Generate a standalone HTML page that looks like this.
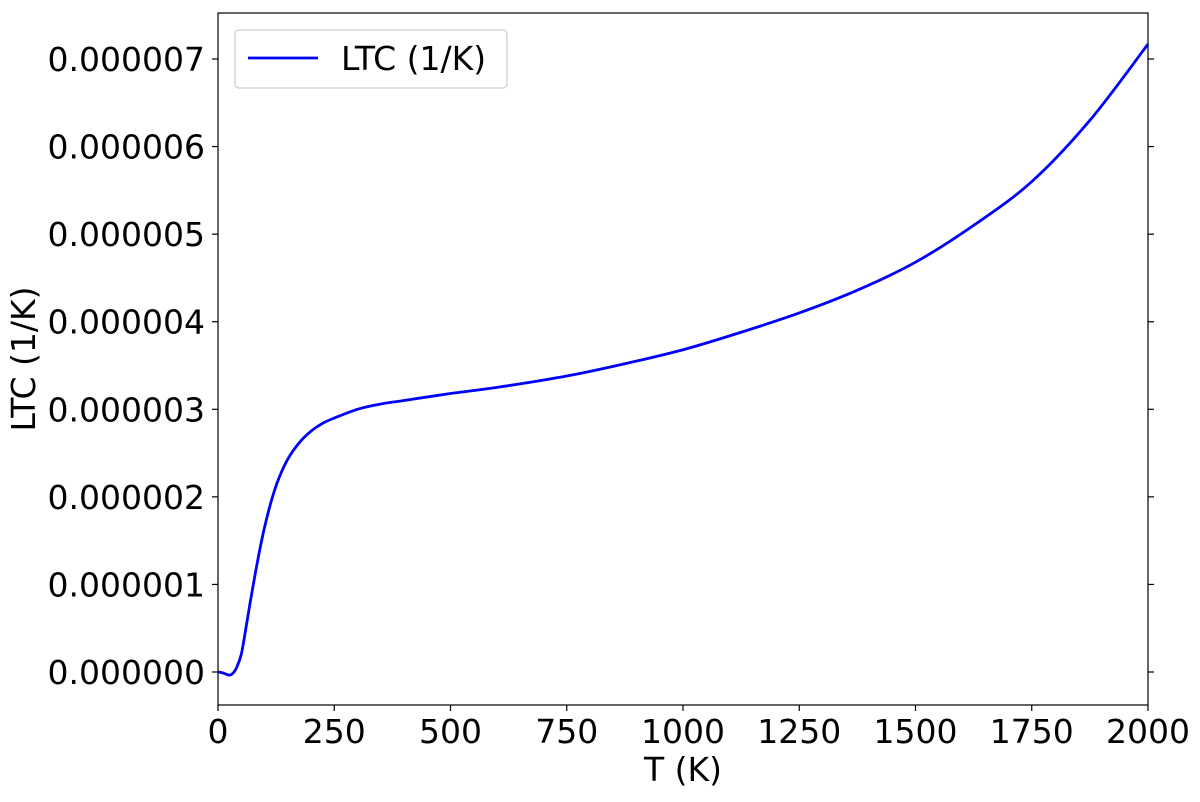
<!DOCTYPE html>
<html><head><meta charset="utf-8"><style>
html,body{margin:0;padding:0;background:#fff;}
svg text{font-family:"DejaVu Sans","Liberation Sans",sans-serif;fill:#000;}
</style></head><body>
<svg id="chart" width="1200" height="797" xmlns="http://www.w3.org/2000/svg">
<g id="axes"></g>
<path id="curve" fill="none" stroke="#0000ff" stroke-width="2.8"/>
<rect x="218" y="13" width="930" height="692" fill="none" stroke="#000" stroke-width="1.2"/>
<g>
<rect x="235" y="30" width="272" height="58" rx="4" fill="#fff" stroke="#ccc" stroke-width="1.2"/>
<line x1="248" y1="58" x2="318" y2="58" stroke="#0000ff" stroke-width="2.8"/>
<text x="341" y="70" font-size="33">LTC (1/K)</text>
</g>
<text x="683" y="781" font-size="33" text-anchor="middle">T (K)</text>
<text transform="translate(35,359) rotate(-90)" font-size="33" text-anchor="middle">LTC (1/K)</text>
</svg>
<script>
const temps=[0,10,20,26,33,40,50,60,70,80,90,100,115,130,150,175,200,225,250,300,350,400,500,600,750,875,1000,1125,1250,1375,1500,1625,1750,1875,2000];
const ltc=[0,-0.01,-0.03,-0.035,-0.01,0.05,0.2,0.5,0.82,1.12,1.4,1.65,1.96,2.2,2.43,2.62,2.75,2.84,2.9,3.0,3.06,3.1,3.18,3.25,3.38,3.52,3.68,3.88,4.1,4.36,4.68,5.1,5.6,6.3,7.17];
const xTicks=[0,250,500,750,1000,1250,1500,1750,2000];
const yTicks=[0,1,2,3,4,5,6,7];
const yLabels=["0.000000","0.000001","0.000002","0.000003","0.000004","0.000005","0.000006","0.000007"];
const X0=218,X1=1148,xMin=0,xMax=2000;
const yPx0=672,yPerUnit=87.57;
const xs=v=>X0+(v-xMin)/(xMax-xMin)*(X1-X0);
const ys=v=>yPx0-v*yPerUnit;
const NS="http://www.w3.org/2000/svg";
const ax=document.getElementById('axes');
function mk(t,a){const e=document.createElementNS(NS,t);for(const k in a)e.setAttribute(k,a[k]);return e;}
xTicks.forEach(t=>{
 const l=mk('line',{x1:xs(t),x2:xs(t),y1:705,y2:711,stroke:'#000','stroke-width':1.2});
 
 
 ax.appendChild(l);
 const tx=mk('text',{x:xs(t),y:743,'font-size':33,'text-anchor':'middle'});
 
 
 tx.textContent=t;ax.appendChild(tx);
});
yTicks.forEach((t,i)=>{
 const l=mk('line',{x1:212,x2:218,y1:ys(t),y2:ys(t),stroke:'#000','stroke-width':1.2});
 
 
 ax.appendChild(l);
 const r=mk('line',{x1:1148,x2:1154,y1:ys(t),y2:ys(t),stroke:'#000','stroke-width':1.2});
 
 
 ax.appendChild(r);
 const tx=mk('text',{x:205,y:ys(t)+12,'font-size':33,'text-anchor':'end'});
 
 
 tx.textContent=yLabels[i];ax.appendChild(tx);
});
const P=temps.map((t,i)=>[xs(t),ys(ltc[i])]);
let d=`M${P[0][0]},${P[0][1]}`;
for(let i=0;i<P.length-1;i++){
 const p0=P[Math.max(0,i-1)],p1=P[i],p2=P[i+1],p3=P[Math.min(P.length-1,i+2)];
 const c1=[p1[0]+(p2[0]-p0[0])/6,p1[1]+(p2[1]-p0[1])/6];
 const c2=[p2[0]-(p3[0]-p1[0])/6,p2[1]-(p3[1]-p1[1])/6];
 d+=` C${c1[0]},${c1[1]} ${c2[0]},${c2[1]} ${p2[0]},${p2[1]}`;
}
document.getElementById('curve').setAttribute('d',d);
</script>
</body></html>
